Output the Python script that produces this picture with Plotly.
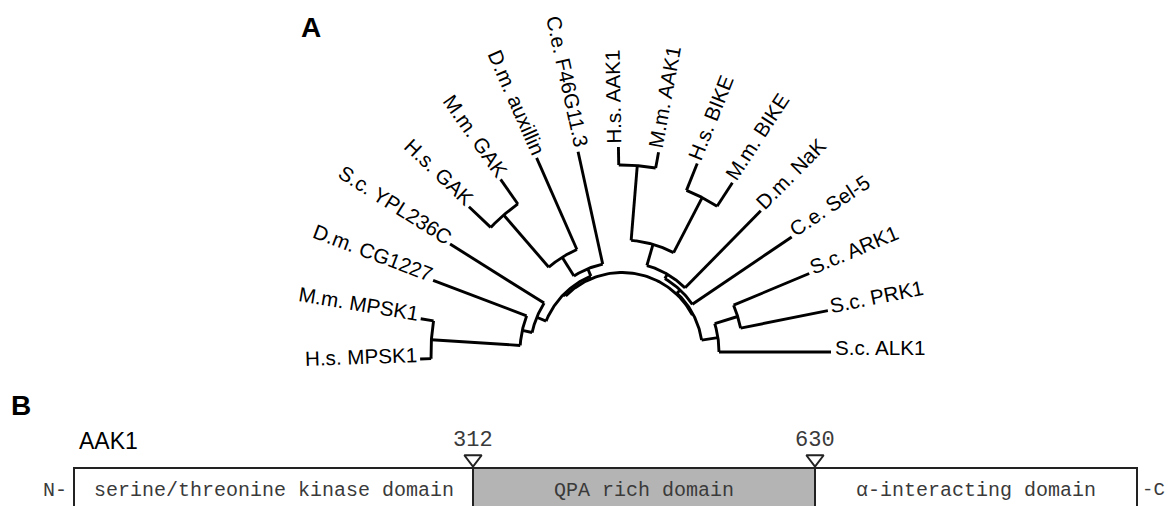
import numpy as np
import plotly.graph_objects as go

# ---------------- data: panel A (phylogenetic tree) ----------------
leaf_names = ["S.c. ALK1", "S.c. PRK1", "S.c. ARK1", "C.e. Sel-5", "D.m. NaK",
              "M.m. BIKE", "H.s. BIKE", "M.m. AAK1", "H.s. AAK1", "C.e. F46G11.3",
              "D.m. auxillin", "M.m. GAK", "H.s. GAK", "S.c. YPL236C", "D.m. CG1227",
              "M.m. MPSK1", "H.s. MPSK1"]
leaf_depth = [209, 210, 203, 205, 198, 202, 203, 203, 205, 205,
              212, 211, 211, 203, 202, 204, 202]

clade_names = ["PRK_ARK", "yeast", "BIKE", "AAK1", "AAK_BIKE", "NaK_grp", "Sel5_grp",
               "right", "GAK", "aux_GAK", "F46_grp", "MPSK", "CG_MPSK", "YPL_grp",
               "left", "root"]
clade_children = [["S.c. PRK1", "S.c. ARK1"], ["S.c. ALK1", "PRK_ARK"],
                  ["M.m. BIKE", "H.s. BIKE"], ["M.m. AAK1", "H.s. AAK1"],
                  ["BIKE", "AAK1"], ["D.m. NaK", "AAK_BIKE"], ["C.e. Sel-5", "NaK_grp"],
                  ["yeast", "Sel5_grp"], ["M.m. GAK", "H.s. GAK"],
                  ["D.m. auxillin", "GAK"], ["C.e. F46G11.3", "aux_GAK"],
                  ["M.m. MPSK1", "H.s. MPSK1"], ["D.m. CG1227", "MPSK"],
                  ["S.c. YPL236C", "CG_MPSK"], ["F46_grp", "YPL_grp"], ["right", "left"]]
clade_depth = [121, 97, 174, 187, 112, 90, 85, 80.5, 181, 112, 90, 191, 102, 92, 82, 79.5]

# ---------------- data: panel B (domain map) ----------------
protein_name = "AAK1"
domain_labels = ["serine/threonine kinase domain", "QPA rich domain", "\u03b1-interacting domain"]
domain_fill = ["white", "#b4b4b4", "white"]
boundary_residues = ["312", "630"]

# ---------------- layout constants ----------------
VW, VH = 1175, 506                # browser viewport
OFF = 8                           # default page margin of the html body
W, H = VW - OFF, VH - OFF         # figure size so that it fits the viewport
CX, CY = 622, 352                 # tree centre (viewport pixels)
ANGLE_STEP = 182.0 / 16           # degrees between neighbouring leaves
LABEL_FONT = 20.6
box_edges_px = [74, 473, 815, 1137]
box_top_px = 468

# ---------------- geometry of the tree ----------------
angle = {}
depth = {}
for i, n in enumerate(leaf_names):
    angle[n] = i * ANGLE_STEP
    depth[n] = leaf_depth[i]
children = dict(zip(clade_names, clade_children))
for n, d in zip(clade_names, clade_depth):
    depth[n] = d


def node_angle(n):
    if n in angle:
        return angle[n]
    a = [node_angle(c) for c in children[n]]
    angle[n] = 0.5 * (min(a) + max(a))
    return angle[n]


for n in clade_names:
    node_angle(n)


def pol(r, deg):
    t = np.radians(deg)
    return r * np.cos(t), r * np.sin(t)


xs, ys = [], []
for n in clade_names:
    r = depth[n]
    ca = [angle[c] for c in children[n]]
    arc = np.linspace(min(ca), max(ca), 60)
    px, py = pol(r, arc)
    xs += list(px) + [None]
    ys += list(py) + [None]
    for c in children[n]:
        x0, y0 = pol(r, angle[c])
        x1, y1 = pol(depth[c], angle[c])
        xs += [x0, x1, None]
        ys += [y0, y1, None]

fig = go.Figure()
fig.add_trace(go.Scatter(x=xs, y=ys, mode="lines",
                         line=dict(color="black", width=2.9),
                         hoverinfo="skip", showlegend=False,
                         xaxis="x", yaxis="y"))

# Arial-like advance widths (per 1000 em)
AW = {" ": 278, ".": 278, "-": 333, "A": 667, "B": 667, "C": 722, "D": 722, "E": 667,
      "F": 611, "G": 778, "H": 722, "I": 278, "K": 667, "L": 556, "M": 833, "N": 722,
      "P": 667, "R": 722, "S": 667, "Y": 667, "a": 556, "c": 500, "e": 556, "i": 222,
      "l": 222, "m": 833, "n": 556, "s": 500, "u": 556, "x": 500}


def text_w(s, size):
    return sum(AW.get(ch, 556) for ch in s) / 1000.0 * size


annotations = []
for n in leaf_names:
    th = angle[n]
    w = text_w(n, LABEL_FONT)
    rc = depth[n] + 3 + w / 2
    x, y = pol(rc, th)
    if th <= 91:
        ta = -th
        up = th + 90
    else:
        ta = 180 - th
        up = th - 90
    ox, oy = pol(4.5, up)
    annotations.append(dict(x=x + ox, y=y + oy, xref="x", yref="y", text=n,
                            showarrow=False, textangle=ta, xanchor="center",
                            yanchor="middle",
                            font=dict(family="Liberation Sans, Arial", size=LABEL_FONT,
                                      color="black")))

# panel letters
annotations.append(dict(x=311, y=27, xref="x2", yref="y2", text="<b>A</b>", showarrow=False,
                        font=dict(family="Liberation Sans, Arial", size=28, color="black")))
annotations.append(dict(x=21, y=405, xref="x2", yref="y2", text="<b>B</b>", showarrow=False,
                        font=dict(family="Liberation Sans, Arial", size=28, color="black")))
annotations.append(dict(x=108, y=441, xref="x2", yref="y2", text=protein_name, showarrow=False,
                        font=dict(family="Liberation Sans, Arial", size=23, color="black")))

# ---------------- panel B ----------------
shapes = []
for k in range(len(domain_labels)):
    x0, x1 = box_edges_px[k], box_edges_px[k + 1]
    shapes.append(dict(type="rect", xref="x2", yref="y2", x0=x0, x1=x1,
                       y0=box_top_px, y1=box_top_px + 60,
                       fillcolor=domain_fill[k], line=dict(color="#222", width=2),
                       layer="below"))
    annotations.append(dict(x=0.5 * (x0 + x1), y=490, xref="x2", yref="y2",
                            text=domain_labels[k], showarrow=False,
                            font=dict(family="Liberation Mono, monospace", size=20,
                                      color="#3a3a3a")))

annotations.append(dict(x=55, y=490, xref="x2", yref="y2", text="N-", showarrow=False,
                        font=dict(family="Liberation Mono, monospace", size=20, color="#3a3a3a")))
annotations.append(dict(x=1142, y=490, xref="x2", yref="y2", text="-C", showarrow=False,
                        xanchor="left", xshift=-2,
                        font=dict(family="Liberation Mono, monospace", size=19, color="#3a3a3a")))

tri_x = box_edges_px[1:3]
fig.add_trace(go.Scatter(x=tri_x, y=[459, 459], mode="markers",
                         marker=dict(symbol="triangle-down-open", size=15,
                                     color="#222", line=dict(width=2, color="#222")),
                         hoverinfo="skip", showlegend=False, xaxis="x2", yaxis="y2"))
for xb, lab in zip(tri_x, boundary_residues):
    annotations.append(dict(x=xb, y=440, xref="x2", yref="y2", text=lab, showarrow=False,
                            font=dict(family="Liberation Mono, monospace", size=22,
                                      color="#3a3a3a")))

fig.update_layout(
    width=W, height=H, margin=dict(l=0, r=0, t=0, b=0),
    paper_bgcolor="white", plot_bgcolor="rgba(0,0,0,0)",
    xaxis=dict(range=[OFF - CX, VW - CX], visible=False, domain=[0, 1], anchor="y",
               fixedrange=True),
    yaxis=dict(range=[CY - VH, CY - OFF], visible=False, domain=[0, 1], anchor="x",
               fixedrange=True),
    xaxis2=dict(range=[OFF, VW], visible=False, domain=[0, 1], anchor="y2", fixedrange=True),
    yaxis2=dict(range=[VH, OFF], visible=False, domain=[0, 1], anchor="x2", fixedrange=True),
    shapes=shapes, annotations=annotations, showlegend=False,
)

fig.write_html("out.html")
